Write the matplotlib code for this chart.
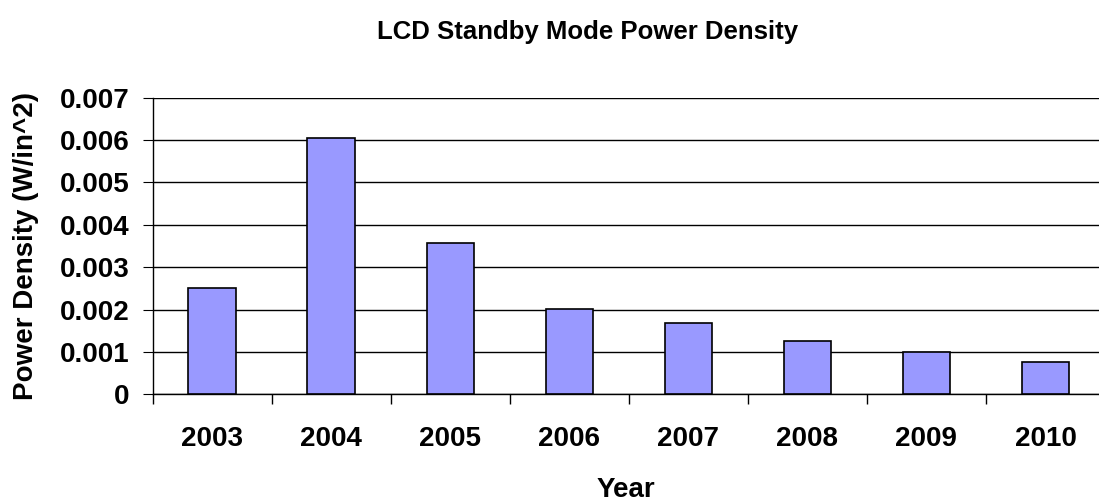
import numpy as np
import matplotlib.pyplot as plt
from matplotlib.ticker import MultipleLocator, FixedLocator, FuncFormatter

years = ['2003', '2004', '2005', '2006', '2007', '2008', '2009', '2010']
density = [0.0025, 0.00605, 0.00358, 0.00202, 0.00169, 0.00127, 0.00100, 0.00076]

plt.rcParams['font.family'] = ['Liberation Sans', 'DejaVu Sans']
plt.rcParams['font.weight'] = 'bold'

fig = plt.figure(figsize=(10.99, 5.03), dpi=100)
ax = fig.add_axes([0.139, 0.216, 0.861, 0.590])

x = np.arange(len(years))
ax.bar(x, density, width=0.4, color='#9999FF', edgecolor='black', linewidth=1.2, zorder=3)

ax.set_ylim(0, 0.007)
ax.set_xlim(-0.5, 7.45)
ax.yaxis.set_major_locator(MultipleLocator(0.001))
ax.yaxis.set_major_formatter(FuncFormatter(lambda v, p: '0' if abs(v) < 1e-9 else '%.3f' % v))
ax.grid(axis='y', color='black', linewidth=1, zorder=0)

ax.set_xticks(x)
ax.set_xticklabels(years)
ax.xaxis.set_minor_locator(FixedLocator(np.arange(-0.5, 8, 1)))
ax.tick_params(axis='x', which='major', length=0, pad=23, labelsize=20)
ax.tick_params(axis='x', which='minor', length=7, direction='out', width=1)
ax.tick_params(axis='y', length=7, direction='out', labelsize=20, pad=10)

for s in ['top', 'right']:
    ax.spines[s].set_visible(False)
ax.spines['left'].set_linewidth(1)
ax.spines['bottom'].set_linewidth(1)

ax.set_ylabel('Power Density (W/in^2)', fontsize=20, fontweight='bold', labelpad=15)
ax.set_xlabel('Year', fontsize=20, fontweight='bold', labelpad=18)
fig.text(0.535, 0.937, 'LCD Standby Mode Power Density', ha='center', va='center',
         fontsize=18.5, fontweight='bold')

fig.savefig('out.png', dpi=100)
